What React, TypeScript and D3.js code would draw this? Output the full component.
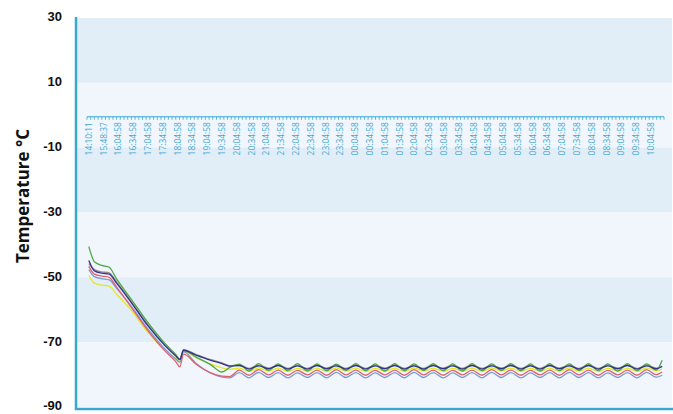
import React from "react";
import * as d3 from "d3";

const yTicks = [30, 10, -10, -30, -50, -70, -90];

const xLabels = [
  "14:10:11", "15:48:37", "16:04:58", "16:34:58", "17:04:58", "17:34:58", "18:04:58", "18:34:58",
  "19:04:58", "19:34:58", "20:04:58", "20:34:58", "21:04:58", "21:34:58", "22:04:58", "22:34:58",
  "23:04:58", "23:34:58", "00:04:58", "00:34:58", "01:04:58", "01:34:58", "02:04:58", "02:34:58",
  "03:04:58", "03:34:58", "04:04:58", "04:34:58", "05:04:58", "05:34:58", "06:04:58", "06:34:58",
  "07:04:58", "07:34:58", "08:04:58", "08:34:58", "09:04:58", "09:34:58", "10:04:58",
];
const slotCount = 156;
const labelEvery = 4;

// sample positions (in time-slot units)
const timeIdx = [
  0, 1.5, 3.5, 5.5, 7.5, 11, 16, 20.5, 23.5, 24.6, 25.6, 29, 33, 36,
  38.1,
  40.7, 43.3, 45.9, 48.6, 51.2, 53.8, 56.4, 59.1, 61.7, 64.3, 66.9, 69.5,
  72.2, 74.8, 77.4, 80.0, 82.7, 85.3, 87.9, 90.5, 93.1, 95.8, 98.4, 101.0,
  103.6, 106.3, 108.9, 111.5, 114.1, 116.8, 119.4, 122.0, 124.6, 127.2, 129.9, 132.5,
  135.1, 137.7, 140.3, 143.0, 145.6, 148.2, 150.8, 153.4,
  155,
];

const green = [
  -40.5, -45.2, -46.3, -46.9, -50.5, -56.0, -64.0, -70.3, -73.8, -75.3, -72.5, -74.6, -77.0, -79.2,
  -77.8,
  -76.8, -78.9, -76.6, -78.7, -76.7, -78.8, -76.6, -78.9, -76.7, -78.8, -76.8, -78.7,
  -76.6, -78.8, -76.7, -78.9, -76.6, -78.8, -76.7, -78.7, -76.6, -78.8, -76.7, -78.9,
  -76.6, -78.8, -76.7, -78.7, -76.6, -78.8, -76.7, -78.9, -76.6, -78.8, -76.7, -78.7,
  -76.6, -78.8, -76.7, -78.9, -76.6, -78.8, -76.7, -78.6,
  -75.6,
];
const navy = [
  -44.8, -48.0, -48.7, -49.0, -51.8, -57.0, -65.0, -71.0, -74.3, -75.4, -72.5, -74.0, -75.6, -76.6,
  -77.4,
  -77.2, -78.3, -77.3, -78.2, -77.2, -78.3, -77.3, -78.3, -77.2, -78.2, -77.3, -78.3,
  -77.2, -78.3, -77.3, -78.2, -77.2, -78.3, -77.3, -78.3, -77.2, -78.2, -77.3, -78.3,
  -77.2, -78.3, -77.3, -78.2, -77.2, -78.3, -77.3, -78.3, -77.2, -78.2, -77.3, -78.3,
  -77.2, -78.3, -77.3, -78.2, -77.2, -78.3, -77.3, -78.2,
  -77.5,
];
const gray = [
  -45.8, -47.6, -48.3, -48.6, -51.4, -56.7, -64.6, -70.7, -74.0, -75.2, -72.3, -73.8, -75.4, -76.4,
  -77.3,
  -77.0, -78.1, -77.1, -78.0, -77.0, -78.1, -77.1, -78.1, -77.0, -78.0, -77.1, -78.1,
  -77.0, -78.1, -77.1, -78.0, -77.0, -78.1, -77.1, -78.1, -77.0, -78.0, -77.1, -78.1,
  -77.0, -78.1, -77.1, -78.0, -77.0, -78.1, -77.1, -78.1, -77.0, -78.0, -77.1, -78.1,
  -77.0, -78.1, -77.1, -78.0, -77.0, -78.1, -77.1, -78.0,
  -77.4,
];
const red = [
  -46.6, -49.0, -49.6, -50.0, -53.0, -58.5, -66.5, -72.6, -76.0, -77.6, -73.7, -76.8, -79.5, -80.5,
  -80.6,
  -78.6, -80.2, -78.5, -80.1, -78.6, -80.2, -78.7, -80.1, -78.6, -80.2, -78.5, -80.1,
  -78.6, -80.2, -78.7, -80.1, -78.6, -80.2, -78.5, -80.1, -78.6, -80.2, -78.7, -80.1,
  -78.6, -80.2, -78.5, -80.1, -78.6, -80.2, -78.7, -80.1, -78.6, -80.2, -78.5, -80.1,
  -78.6, -80.2, -78.7, -80.1, -78.6, -80.2, -78.5, -80.0,
  -79.2,
];
const blue = [
  -47.6, -49.8, -50.4, -50.8, -53.4, -58.2, -66.0, -72.0, -75.2, -76.2, -72.9, -76.6, -79.6, -80.8,
  -81.0,
  -79.4, -81.0, -79.3, -80.9, -79.4, -81.0, -79.5, -80.9, -79.4, -81.0, -79.3, -80.9,
  -79.4, -81.0, -79.5, -80.9, -79.4, -81.0, -79.3, -80.9, -79.4, -81.0, -79.5, -80.9,
  -79.4, -81.0, -79.3, -80.9, -79.4, -81.0, -79.5, -80.9, -79.4, -81.0, -79.3, -80.9,
  -79.4, -81.0, -79.5, -80.9, -79.4, -81.0, -79.3, -80.8,
  -80.2,
];
const yellow = [
  -49.4, -51.8, -52.4, -52.7, -55.2, -59.5, -67.0, -72.4, -75.0, -75.8, -72.8, -74.8, -76.8, -77.9,
  -78.4,
  -78.0, -79.0, -77.9, -78.9, -78.0, -79.0, -78.1, -78.9, -78.0, -79.0, -77.9, -78.9,
  -78.0, -79.0, -78.1, -78.9, -78.0, -79.0, -77.9, -78.9, -78.0, -79.0, -78.1, -78.9,
  -78.0, -79.0, -77.9, -78.9, -78.0, -79.0, -78.1, -78.9, -78.0, -79.0, -77.9, -78.9,
  -78.0, -79.0, -78.1, -78.9, -78.0, -79.0, -77.9, -78.8,
  -78.3,
];

const seriesList = [
  { name: "gray", values: gray, color: "#9c8c8c" },
  { name: "yellow", values: yellow, color: "#e6e628" },
  { name: "blue", values: blue, color: "#7c9bd2" },
  { name: "red", values: red, color: "#e0606e" },
  { name: "green", values: green, color: "#4fa845" },
  { name: "navy", values: navy, color: "#33338f" },
];

const W = 673;
const H = 414;
const plotLeft = 77;
const plotRight = 672;
const axisColor = "#3aa8d4";
const bandDark = "#e2eef7";
const bandLight = "#f0f6fb";

export default function App() {
  const y = d3.scaleLinear().domain([-90, 30]).range([407, 18]);
  const x = d3.scaleLinear().domain([-0.5, slotCount - 0.5]).range([87, 664]);

  const line = d3
    .line<number>()
    .x((_, i) => x(timeIdx[i]))
    .y((d) => y(d))
    .curve(d3.curveMonotoneX);

  const tickPositions = d3.range(0, slotCount + 1).map((i) => x(i - 0.5));
  const y0 = y(0);

  return (
    <svg
      width={W}
      height={H}
      style={{ position: "absolute", left: 0, top: 0, display: "block" }}
      fontFamily="'Liberation Sans', Arial, sans-serif"
    >
      {yTicks.slice(0, -1).map((t, i) => (
        <rect
          key={"band" + t}
          x={plotLeft}
          y={y(t)}
          width={plotRight - plotLeft}
          height={y(yTicks[i + 1]) - y(t)}
          fill={i % 2 === 0 ? bandDark : bandLight}
        />
      ))}

      {/* zero-line category axis */}
      <line x1={tickPositions[0]} x2={tickPositions[tickPositions.length - 1]} y1={y0 + 1.5} y2={y0 + 1.5} stroke={axisColor} strokeWidth={1} />
      {tickPositions.map((tx, i) => (
        <line key={"t" + i} x1={tx} x2={tx} y1={y0 + 1.5} y2={y0 + 4.5} stroke={axisColor} strokeWidth={0.8} />
      ))}
      {xLabels.map((lab, j) => {
        const cx = x(j * labelEvery);
        const ty = y0 + 7;
        return (
          <text
            key={"xl" + j}
            transform={`translate(${cx + 3},${ty}) rotate(-90)`}
            textAnchor="end"
            fontSize={8.4}
            fontFamily="'Open Sans', 'Noto Sans', sans-serif"
            fill="#42a9d4"
          >
            {lab}
          </text>
        );
      })}

      {seriesList.map((s) => (
        <path key={s.name} d={line(s.values) || ""} fill="none" stroke={s.color} strokeWidth={1.3} />
      ))}

      {/* axes */}
      <line x1={plotLeft - 1} x2={plotLeft - 1} y1={17} y2={410} stroke={axisColor} strokeWidth={2.5} />
      <line x1={plotLeft - 2} x2={W} y1={409} y2={409} stroke={axisColor} strokeWidth={2.5} />

      {yTicks.map((t) => (
        <text
          key={"yl" + t}
          x={62}
          y={y(t)}
          textAnchor="end"
          dominantBaseline="middle"
          fontSize={13}
          fontWeight="bold"
          fill="#111"
        >
          {t}
        </text>
      ))}

      <text
        transform={`translate(29,196) rotate(-90)`}
        textAnchor="middle"
        fontSize={17}
        fontWeight="bold"
        fontFamily="'Open Sans', 'Liberation Sans', sans-serif"
        fill="#111"
      >
        Temperature °C
      </text>
    </svg>
  );
}
